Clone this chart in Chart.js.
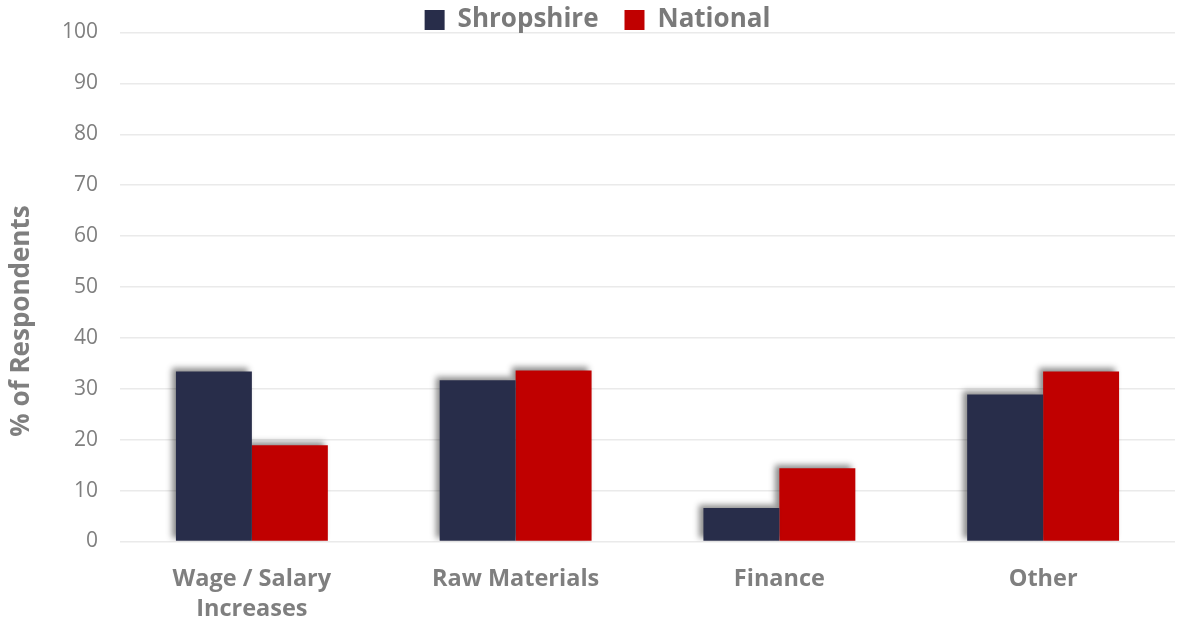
<!DOCTYPE html>
<html>
<head>
<meta charset="utf-8">
<script src="https://cdn.jsdelivr.net/npm/chart.js@4/dist/chart.umd.min.js"></script>
<style>
html,body{margin:0;padding:0;background:#fff;}
#wrap{width:1177px;height:624px;position:relative;}
</style>
</head>
<body>
<div id="wrap"><canvas id="c" width="1177" height="624"></canvas></div>
<script>
const categories = [["Wage / Salary","Increases"], "Raw Materials", "Finance", "Other"];
const shropshire = [33.4, 31.7, 6.6, 28.9];
const national = [18.9, 33.6, 14.4, 33.4];
const yTicks = [0,10,20,30,40,50,60,70,80,90,100];

const shadowPlugin = {
  id: 'barShadow',
  beforeDatasetsDraw(chart) {
    const ctx = chart.ctx;
    ctx.save();
    ctx.shadowColor = 'rgba(0,0,0,0.45)';
    ctx.shadowBlur = 6;
    ctx.shadowOffsetX = -4;
    ctx.shadowOffsetY = -3;
  },
  afterDatasetsDraw(chart) {
    chart.ctx.restore();
  }
};

const legendTweak = {
  id: 'legendTweak',
  afterInit(chart) {
    const lg = chart.legend;
    if (!lg || lg._tweaked) return;
    lg._tweaked = true;
    const fit = lg.fit.bind(lg);
    lg.fit = function () { fit(); this.height = 22; };
    const draw = lg.draw.bind(lg);
    lg.draw = function () {
      const t = this.top, b = this.bottom, l = this.left, r = this.right;
      this.top = -19; this.bottom = 45;
      this.left = l + 10; this.right = r + 10;
      draw();
      this.top = t; this.bottom = b; this.left = l; this.right = r;
    };
  },
  afterLayout(chart) {
    const ys = chart.scales.y;
    if (!ys || ys._titleTweaked) return;
    ys._titleTweaked = true;
    const dt = ys.drawTitle.bind(ys);
    ys.drawTitle = function () {
      const ctx = chart.ctx;
      ctx.save();
      ctx.translate(2, 34);
      dt();
      ctx.restore();
    };
  }
};

new Chart(document.getElementById('c'), {
  type: 'bar',
  data: {
    labels: categories,
    datasets: [
      { label: 'Shropshire', data: shropshire, backgroundColor: '#282D4A', borderWidth: 0 },
      { label: 'National', data: national, backgroundColor: '#C00000', borderWidth: 0 }
    ]
  },
  plugins: [shadowPlugin, legendTweak],
  options: {
    responsive: false,
    animation: false,
    layout: { padding: { top: 0, right: 2, left: 0, bottom: 0 } },
    datasets: { bar: { barPercentage: 1.0, categoryPercentage: 0.576 } },
    plugins: {
      legend: {
        position: 'top',
        labels: {
          boxWidth: 20, boxHeight: 20, padding: 26,
          color: '#7A7A7A',
          font: { family: '"Open Sans", sans-serif', size: 26, weight: 'bold' }
        }
      },
      tooltip: { enabled: false }
    },
    scales: {
      x: {
        grid: { display: false },
        border: { display: false },
        ticks: {
          color: '#7F7F7F',
          font: { family: '"Open Sans", sans-serif', size: 23.5, weight: 'bold', lineHeight: 1.28 },
          padding: 15,
          maxRotation: 0
        },
        afterFit(s) { s.height = 82.5; }
      },
      y: {
        min: 0, max: 100,
        afterBuildTicks(s) { s.ticks = yTicks.map(v => ({ value: v })); },
        grid: { color: '#EAEAEA', lineWidth: 1.5, drawTicks: false },
        border: { display: false },
        ticks: {
          color: '#7F7F7F',
          font: { family: '"Open Sans", sans-serif', size: 21, lineHeight: 1.0 },
          padding: 22
        },
        title: {
          display: true,
          text: '% of Respondents',
          color: '#7F7F7F',
          font: { family: '"Open Sans", sans-serif', size: 26, weight: 'bold' },
          padding: { top: 4, bottom: 6 }
        },
        afterFit(s) { s.width = 120; }
      }
    }
  }
});
</script>
</body>
</html>
